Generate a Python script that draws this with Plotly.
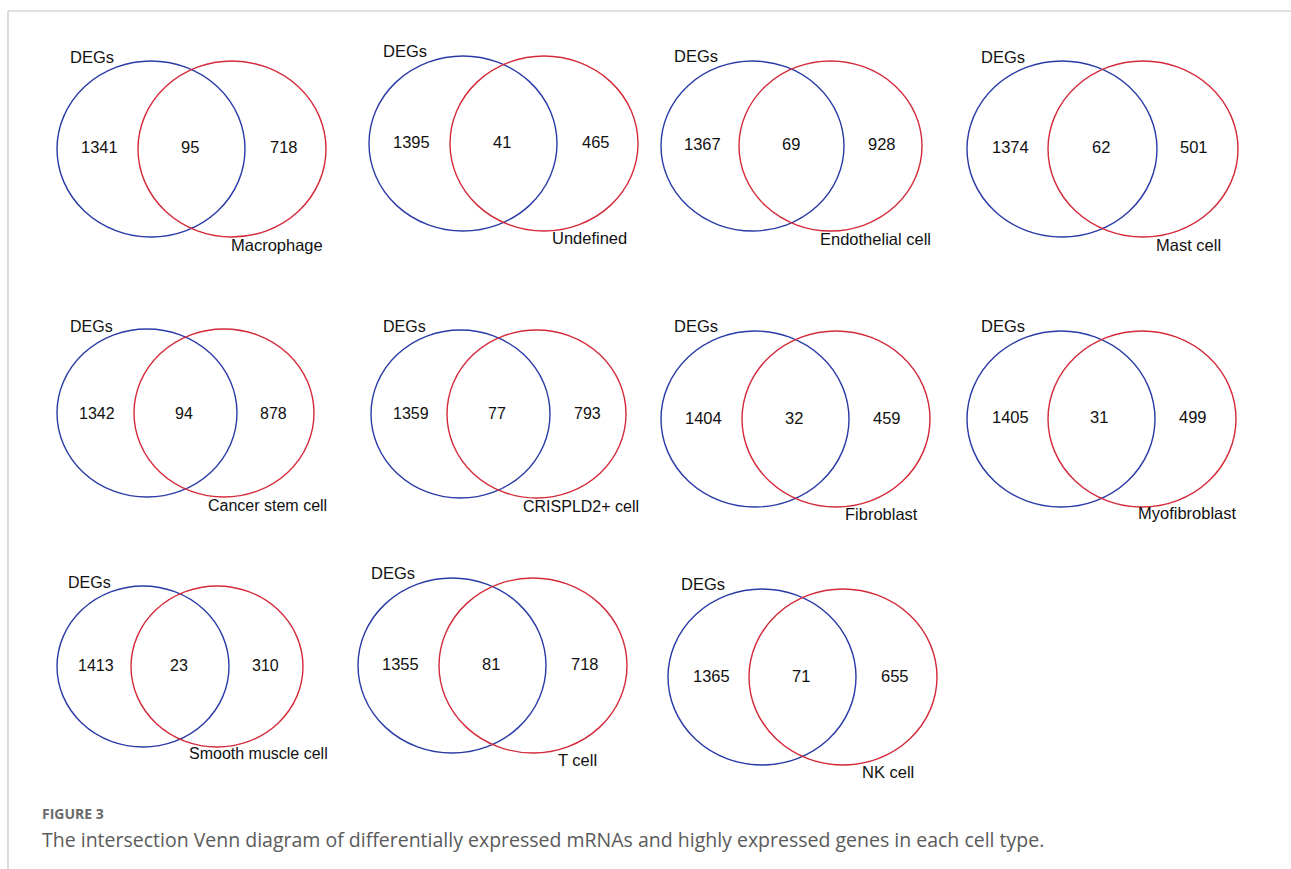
import plotly.graph_objects as go

# --- data -------------------------------------------------------------
cell_types = ["Macrophage", "Undefined", "Endothelial cell", "Mast cell",
              "Cancer stem cell", "CRISPLD2+ cell", "Fibroblast", "Myofibroblast",
              "Smooth muscle cell", "T cell", "NK cell"]
deg_only = [1341, 1395, 1367, 1374, 1342, 1359, 1404, 1405, 1413, 1355, 1365]
shared = [95, 41, 69, 62, 94, 77, 32, 31, 23, 81, 71]
cell_only = [718, 465, 928, 501, 878, 793, 459, 499, 310, 718, 655]
set_a_name = "DEGs"

caption_title = "FIGURE 3"
caption_text = ("The intersection Venn diagram of differentially expressed mRNAs "
                "and highly expressed genes in each cell type.")

# --- layout of each panel (page pixels, y downwards) --------------------
blue_x0 = [57, 369, 661, 967, 57, 371, 661, 967, 57, 358, 668]
red_x0 = [138, 450, 739, 1048, 134, 447, 742, 1048, 131, 439, 749]
circ_w = [188, 188, 183, 190, 180, 179, 188, 188, 172, 188, 188]
circ_y0 = [61, 56, 61, 61, 329, 330, 331, 331, 586, 578, 589]
circ_y1 = [237, 231, 231, 237, 497, 498, 507, 507, 747, 753, 765]

degs_xy = [(92, 57), (405, 51), (696, 56), (1003, 57), (91, 326), (404, 326),
           (696, 326), (1003, 326), (89, 582), (393, 573), (703, 584)]
num_y = [147, 142, 144, 147, 413, 413, 418, 417, 665, 664, 676]
num_x_left = [99, 411, 702, 1010, 97, 411, 703, 1010, 96, 400, 711]
num_x_mid = [190, 502, 791, 1101, 184, 497, 794, 1099, 179, 491, 801]
num_x_right = [284, 596, 882, 1194, 273, 587, 887, 1193, 265, 585, 895]
label_xy = [(277, 245), (589, 238), (875, 239), (1188, 245), (267, 505),
            (581, 506), (881, 514), (1187, 513), (258, 753), (577, 760), (888, 772)]
font_px = [16.5, 16.5, 16.5, 16.5, 16, 16, 16.5, 16.5, 16, 16.5, 16.5]

W, H = 1291, 869
BLUE = "#2a3aa6"
RED = "#d42a3a"
FONT = "Liberation Sans, Arial, sans-serif"

fig = go.Figure()
shapes = []
annotations = []


def text(x, y, s, size, color="#111111", anchor="center", family=FONT):
    annotations.append(dict(x=x, y=y, xref="x", yref="y", text=s, showarrow=False,
                            xanchor=anchor, yanchor="middle",
                            font=dict(family=family, size=size, color=color)))


for i, name in enumerate(cell_types):
    shapes.append(dict(type="circle", xref="x", yref="y",
                       x0=blue_x0[i], x1=blue_x0[i] + circ_w[i],
                       y0=circ_y0[i], y1=circ_y1[i],
                       line=dict(color=BLUE, width=1.4)))
    shapes.append(dict(type="circle", xref="x", yref="y",
                       x0=red_x0[i], x1=red_x0[i] + circ_w[i],
                       y0=circ_y0[i], y1=circ_y1[i],
                       line=dict(color=RED, width=1.4)))
    fs = font_px[i]
    text(degs_xy[i][0], degs_xy[i][1], set_a_name, fs)
    text(num_x_left[i], num_y[i], str(deg_only[i]), fs)
    text(num_x_mid[i], num_y[i], str(shared[i]), fs)
    text(num_x_right[i], num_y[i], str(cell_only[i]), fs)
    text(label_xy[i][0], label_xy[i][1], name, fs)

# frame lines along the top and left edges
shapes.append(dict(type="line", xref="x", yref="y", x0=8, x1=W, y0=11, y1=11,
                   line=dict(color="#c4c4c4", width=1.2)))
shapes.append(dict(type="line", xref="x", yref="y", x0=8, x1=8, y0=11, y1=H,
                   line=dict(color="#c4c4c4", width=1.2)))

# caption
text(40, 813, "<b>" + caption_title + "</b>", 14, color="#6a6a6a", anchor="left",
     family="Open Sans, sans-serif")
text(40, 839, caption_text, 19.5, color="#5a5a5a", anchor="left",
     family="Open Sans, sans-serif")

fig.update_layout(
    width=W, height=H,
    margin=dict(l=0, r=0, t=0, b=0),
    paper_bgcolor="white", plot_bgcolor="white",
    xaxis=dict(range=[0, W], visible=False, fixedrange=True),
    yaxis=dict(range=[H, 0], visible=False, fixedrange=True),
    shapes=shapes, annotations=annotations,
    showlegend=False,
)

fig.write_html("out.html")
